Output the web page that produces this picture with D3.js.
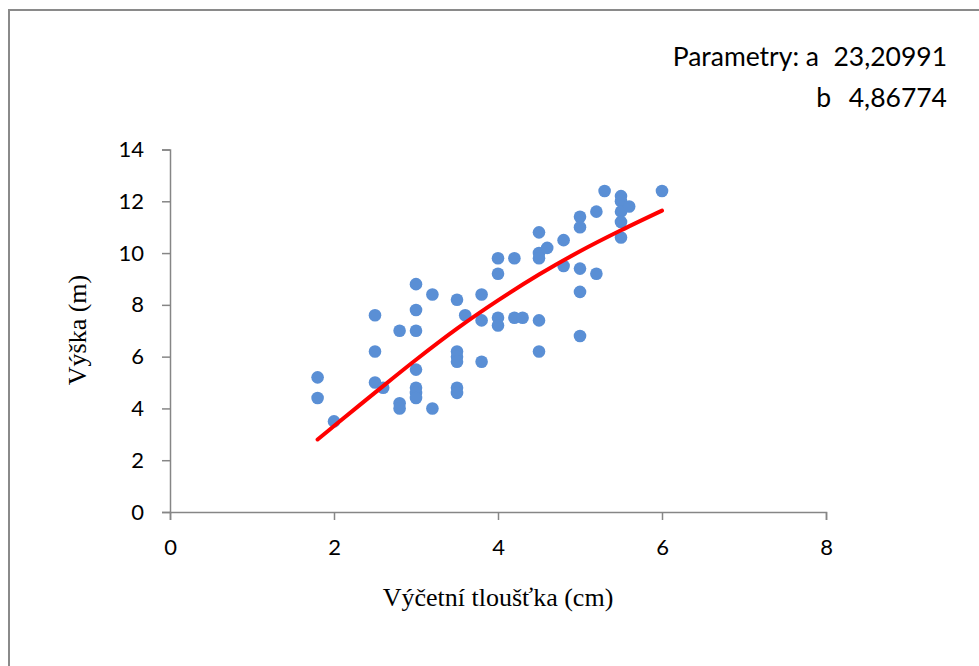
<!DOCTYPE html>
<html>
<head>
<meta charset="utf-8">
<script src="https://cdn.jsdelivr.net/npm/d3@7"></script>
<style>
  body { margin: 0; background: #fff; }
</style>
</head>
<body>
<div id="d3_container"></div>
<script>

// measured trees: diameter (cm) and height (m)
const diameters = [1.8, 1.8, 2.0, 2.5, 2.5, 2.5, 2.6, 2.8, 2.8, 2.8,
    3.0, 3.0, 3.0, 3.0, 3.0, 3.0, 3.0, 3.2, 3.2,
    3.5, 3.5, 3.5, 3.5, 3.5, 3.5, 3.6, 3.8, 3.8, 3.8,
    4.0, 4.0, 4.0, 4.0, 4.2, 4.2, 4.3,
    4.5, 4.5, 4.5, 4.5, 4.5, 4.6, 4.8, 4.8,
    5.0, 5.0, 5.0, 5.0, 5.0, 5.2, 5.2, 5.3,
    5.5, 5.5, 5.5, 5.5, 5.5, 5.6, 6.0];
const heights = [5.2, 4.4, 3.5, 7.6, 6.2, 5.0, 4.8, 7.0, 4.2, 4.0,
    8.8, 7.8, 7.0, 5.5, 4.8, 4.6, 4.4, 8.4, 4.0,
    8.2, 6.2, 6.0, 5.8, 4.8, 4.6, 7.6, 8.4, 7.4, 5.8,
    9.8, 9.2, 7.5, 7.2, 9.8, 7.5, 7.5,
    10.8, 10.0, 9.8, 7.4, 6.2, 10.2, 10.5, 9.5,
    11.4, 11.0, 9.4, 8.5, 6.8, 11.6, 9.2, 12.4,
    12.2, 12.0, 11.6, 11.2, 10.6, 11.8, 12.4];

// fitted curve
const curveD = [1.8, 2.0, 2.5, 3.0, 3.5, 4.0, 4.5, 5.0, 5.5, 6.0];
const curveH = [2.8, 3.32, 4.61, 5.88, 7.08, 8.17, 9.17, 10.07, 10.88, 11.64];

const xTicks = [0, 2, 4, 6, 8];
const yTicks = [0, 2, 4, 6, 8, 10, 12, 14];

const paramNames = ["Parametry: a", "b"];
const paramValues = ["23,20991", "4,86774"];

const width = 979, height = 666;
const margin = {top: 149.5, bottom: 154, right: 153, left: 170};

const svg = d3.select("#d3_container").append("svg")
    .attr("width", width)
    .attr("height", height);

// chart frame (only top and left edges show)
svg.append("rect")
    .attr("x", 9).attr("y", 10)
    .attr("width", 990).attr("height", 700)
    .attr("fill", "none")
    .attr("stroke", "#8a8a8a")
    .attr("stroke-width", 2);

const x_scale = d3.scaleLinear().domain([0, 8]).range([margin.left, width - margin.right]);
const y_scale = d3.scaleLinear().domain([0, 14]).range([height - margin.bottom, margin.top]);

const x_axis = d3.axisBottom(x_scale).tickValues(xTicks).tickSize(8).tickPadding(19);
const y_axis = d3.axisLeft(y_scale).tickValues(yTicks).tickSize(8).tickPadding(18);

const gx = svg.append("g")
    .attr("transform", `translate(0,${height - margin.bottom})`)
    .call(x_axis);
const gy = svg.append("g")
    .attr("transform", `translate(${margin.left},0)`)
    .call(y_axis);

[gx, gy].forEach(g => {
    g.select(".domain").attr("stroke", "#868686").attr("stroke-width", 1.5);
    g.selectAll(".tick line").attr("stroke", "#868686").attr("stroke-width", 1.5);
    g.selectAll(".tick text")
        .attr("fill", "#000")
        .style("font-family", "Lato, 'Open Sans', sans-serif")
        .style("font-size", "22px");
});

// points
svg.append("g")
    .selectAll("circle")
    .data(diameters.map((d, i) => ({d: d, h: heights[i]})))
    .enter()
    .append("circle")
    .attr("cx", p => x_scale(p.d))
    .attr("cy", p => y_scale(p.h))
    .attr("r", 6.3)
    .attr("fill", "#5a8fd5");

// fitted line
const lineFunction = d3.line()
    .x(p => x_scale(p[0]))
    .y(p => y_scale(p[1]))
    .curve(d3.curveCatmullRom);

svg.append("path")
    .datum(curveD.map((d, i) => [d, curveH[i]]))
    .attr("d", lineFunction)
    .attr("fill", "none")
    .attr("stroke", "#ff0000")
    .attr("stroke-width", 4)
    .attr("stroke-linecap", "round");

// axis titles
svg.append("text")
    .attr("x", 498)
    .attr("y", 606)
    .attr("text-anchor", "middle")
    .style("font-family", "'Liberation Serif', 'Times New Roman', serif")
    .style("font-size", "26px")
    .text("Výčetní tloušťka (cm)");

svg.append("text")
    .attr("transform", "translate(86,330) rotate(-90)")
    .attr("text-anchor", "middle")
    .style("font-family", "'Liberation Serif', 'Times New Roman', serif")
    .style("font-size", "26px")
    .text("Výška (m)");

// parameters
const pg = svg.append("g")
    .style("font-family", "Lato, 'Open Sans', sans-serif")
    .style("font-size", "26.5px");

pg.selectAll("text.name")
    .data(paramNames)
    .enter()
    .append("text")
    .attr("class", "name")
    .attr("x", (d, i) => i === 0 ? 819 : 831)
    .attr("y", (d, i) => 66 + i * 41)
    .attr("text-anchor", "end")
    .text(d => d);

pg.selectAll("text.val")
    .data(paramValues)
    .enter()
    .append("text")
    .attr("class", "val")
    .attr("x", 947)
    .attr("y", (d, i) => 66 + i * 41)
    .attr("text-anchor", "end")
    .text(d => d);

</script>
</body>
</html>
